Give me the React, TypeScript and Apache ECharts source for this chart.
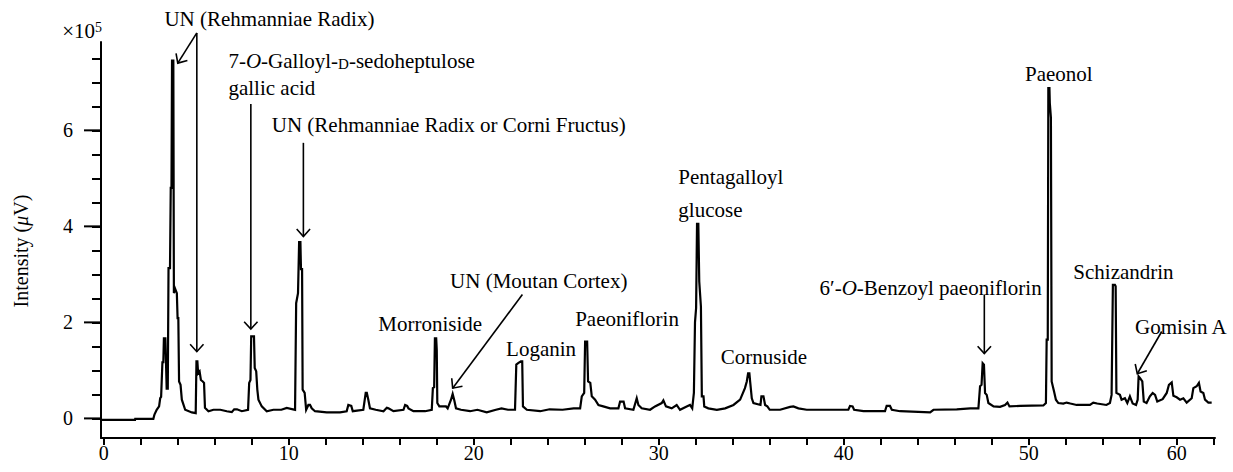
import React, { useEffect, useRef } from "react";
import * as echarts from "echarts";

// Chromatogram trace: [retention time (min), intensity (x10^5 uV)]
const traceEarly: [number, number][] = [
  [-0.14, -0.03], [1.69, -0.03], [1.7, -0.01], [2.68, -0.01], [2.74, 0.08], [2.86, 0.18],
  [2.99, 0.25], [3.05, 0.42], [3.1, 0.45], [3.17, 1.17], [3.22, 1.17], [3.25, 1.67],
  [3.33, 1.67], [3.36, 1.22], [3.4, 0.62], [3.46, 0.62], [3.5, 3.13], [3.58, 3.13],
  [3.62, 4.8], [3.66, 4.8], [3.69, 7.45], [3.76, 7.45], [3.79, 2.61], [3.86, 2.7],
  [3.95, 2.61], [3.99, 2.09], [4.03, 2.09], [4.07, 0.77], [4.15, 0.7], [4.22, 0.39],
  [4.4, 0.18], [4.76, 0.125], [4.97, 0.11], [5.01, 1.19], [5.06, 1.19], [5.1, 0.94],
  [5.18, 0.98], [5.25, 0.8], [5.35, 0.77], [5.42, 0.74], [5.47, 0.22], [5.66, 0.15],
  [5.93, 0.18], [6.3, 0.18], [6.65, 0.15], [6.92, 0.13], [7.05, 0.19], [7.2, 0.19],
  [7.46, 0.15], [7.8, 0.18], [7.86, 0.74], [7.93, 0.8], [7.97, 1.71], [8.12, 1.71],
  [8.16, 1.05], [8.24, 0.98], [8.3, 0.6], [8.36, 0.39], [8.54, 0.25], [8.81, 0.15],
  [9.17, 0.18], [9.6, 0.18], [9.89, 0.22], [10.34, 0.18], [10.4, 2.4], [10.5, 2.61],
  [10.56, 3.67], [10.63, 3.67], [10.66, 3.11], [10.72, 3.11], [10.75, 0.6], [10.86, 0.53],
  [10.94, 0.18], [11.06, 0.28], [11.15, 0.28], [11.24, 0.21], [11.42, 0.15],
];
const traceMiddle: [number, number][] = [
  [12.05, 0.125], [12.77, 0.125], [13.13, 0.15], [13.22, 0.28], [13.38, 0.26], [13.46, 0.15],
  [14.03, 0.18], [14.16, 0.53], [14.22, 0.53], [14.3, 0.39], [14.39, 0.21], [14.7, 0.18],
  [15.12, 0.15], [15.3, 0.22], [15.39, 0.21], [15.66, 0.15], [16.2, 0.18], [16.29, 0.28],
  [16.4, 0.26], [16.47, 0.21], [16.74, 0.15], [17.37, 0.15], [17.73, 0.18], [17.79, 0.63],
  [17.86, 0.65], [17.9, 1.67], [17.97, 1.67], [18.0, 1.43], [18.03, 0.32], [18.14, 0.25],
  [18.5, 0.25], [18.59, 0.21], [18.77, 0.39], [18.86, 0.51], [18.95, 0.375], [19.04, 0.21],
  [19.31, 0.18], [19.8, 0.15], [20.2, 0.18], [20.7, 0.125], [21.2, 0.18], [21.5, 0.21],
  [21.85, 0.18], [22.23, 0.18], [22.3, 1.12], [22.4, 1.15], [22.55, 1.19], [22.62, 1.19],
  [22.66, 0.25], [22.87, 0.18], [23.59, 0.15], [24.1, 0.19], [24.8, 0.18], [25.4, 0.21],
  [25.75, 0.21], [25.84, 0.46], [25.97, 0.53], [26.02, 1.6], [26.13, 1.6], [26.18, 0.77],
  [26.3, 0.74], [26.38, 0.46], [26.56, 0.39], [26.74, 0.28], [27.0, 0.25], [27.37, 0.21],
  [27.82, 0.21], [27.91, 0.35], [28.1, 0.35], [28.18, 0.21], [28.63, 0.18], [28.81, 0.42],
  [28.9, 0.28], [29.08, 0.21], [29.53, 0.18], [29.8, 0.25], [30.16, 0.32], [30.25, 0.375],
  [30.39, 0.25], [30.7, 0.21], [30.97, 0.28], [31.15, 0.18], [31.51, 0.25], [31.69, 0.28],
  [31.81, 0.21], [31.9, 0.53], [31.96, 2.0], [32.02, 2.3], [32.07, 4.05], [32.14, 4.05],
  [32.19, 2.85], [32.28, 2.33], [32.33, 0.46], [32.42, 0.46], [32.46, 0.25], [32.68, 0.21],
  [33.14, 0.18], [33.59, 0.21], [34.04, 0.28], [34.4, 0.39], [34.66, 0.63], [34.76, 0.77],
  [34.83, 0.94], [34.9, 0.94], [34.94, 0.77], [35.03, 0.42], [35.12, 0.32], [35.5, 0.28],
  [35.55, 0.46], [35.66, 0.46], [35.75, 0.28], [35.87, 0.25], [36.0, 0.18],
];
const traceLate: [number, number][] = [
  [36.56, 0.18], [37.1, 0.24], [37.28, 0.25], [37.55, 0.21], [38.0, 0.18], [39.62, 0.18],
  [40.25, 0.18], [40.34, 0.26], [40.48, 0.25], [40.56, 0.18], [41.07, 0.15], [42.23, 0.15],
  [42.32, 0.26], [42.5, 0.26], [42.6, 0.18], [43.05, 0.15], [44.67, 0.125], [44.85, 0.18],
  [46.11, 0.19], [46.84, 0.21], [47.28, 0.21], [47.37, 0.67], [47.45, 0.7], [47.51, 1.15],
  [47.58, 1.12], [47.64, 0.53], [47.73, 0.49], [47.82, 0.32], [48.1, 0.25], [48.45, 0.24],
  [48.72, 0.28], [48.85, 0.33], [48.96, 0.25], [49.53, 0.26], [50.79, 0.27], [50.93, 0.32],
  [50.97, 1.64], [51.03, 1.64], [51.06, 6.88], [51.12, 6.88], [51.14, 6.57], [51.2, 6.26],
  [51.24, 0.77], [51.37, 0.56], [51.47, 0.39], [51.6, 0.32], [51.87, 0.31], [52.05, 0.33],
  [52.25, 0.31], [52.59, 0.28], [53.31, 0.28], [53.49, 0.33], [53.7, 0.31], [54.2, 0.28],
  [54.39, 0.32], [54.48, 0.49], [54.55, 2.78], [54.66, 2.78], [54.7, 2.75], [54.74, 0.53],
  [54.93, 0.49], [55.02, 0.39], [55.2, 0.42], [55.33, 0.32], [55.47, 0.46], [55.62, 0.31],
  [55.8, 0.28], [55.89, 0.39], [55.94, 0.875], [56.02, 0.84], [56.14, 0.77], [56.22, 0.35],
  [56.37, 0.32], [56.55, 0.46], [56.7, 0.53], [56.83, 0.49], [56.95, 0.35], [57.24, 0.4],
  [57.46, 0.53], [57.58, 0.7], [57.73, 0.75], [57.82, 0.47], [58.0, 0.44], [58.18, 0.39],
  [58.36, 0.42], [58.54, 0.33], [58.81, 0.42], [58.9, 0.63], [59.08, 0.67], [59.2, 0.74],
  [59.29, 0.56], [59.44, 0.53], [59.53, 0.39], [59.71, 0.33], [59.89, 0.33],
];

// Axis ticks
const xLabelPositions = [0, 10, 20, 30, 40, 50, 58];
const xTickLabels = ["0", "10", "20", "30", "40", "50", "60"];
const xTickValues = [0, 2, 4, 6, 8, 10, 12, 14, 16, 18, 20, 22, 24, 26, 28, 30, 32, 34, 36, 38, 40, 42, 44, 46, 48, 50, 52, 54, 56, 58, 60];
const yTickValues = [0, 2, 4, 6];
const yAllTickValues = [0, 0.5, 1, 1.5, 2, 2.5, 3, 3.5, 4, 4.5, 5, 5.5, 6, 6.5, 7, 7.5];

// Peak annotations (data coordinates)
const labels: { text: string; at: [number, number]; align?: "left" | "right" }[] = [
  { text: "{a|UN (Rehmanniae Radix)}", at: [3.28, 8.31] },
  { text: "{a|7-}{i|O}{a|-Galloyl-}{s|D}{a|-sedoheptulose}", at: [6.74, 7.45] },
  { text: "{a|gallic acid}", at: [6.74, 6.89] },
  { text: "{a|UN (Rehmanniae Radix or Corni Fructus)}", at: [9.08, 6.12] },
  { text: "{a|Morroniside}", at: [14.84, 1.97] },
  { text: "{a|UN (Moutan Cortex)}", at: [18.72, 2.86] },
  { text: "{a|Loganin}", at: [21.75, 1.45] },
  { text: "{a|Paeoniflorin}", at: [25.48, 2.08] },
  { text: "{a|Pentagalloyl}", at: [31.06, 5.03] },
  { text: "{a|glucose}", at: [31.06, 4.35] },
  { text: "{a|Cornuside}", at: [33.35, 1.275] },
  { text: "{a|6′-}{i|O}{a|-Benzoyl paeoniflorin}", at: [50.7, 2.72], align: "right" },
  { text: "{a|Paeonol}", at: [49.8, 7.18] },
  { text: "{a|Schizandrin}", at: [52.41, 3.05] },
  { text: "{a|Gomisin A}", at: [55.75, 1.91] },
];
const arrows: { from: [number, number]; to: [number, number] }[] = [
  { from: [5.03, 8.03], to: [4.0, 7.4] },
  { from: [5.03, 8.03], to: [5.03, 1.39] },
  { from: [7.95, 6.55], to: [7.95, 1.86] },
  { from: [10.79, 5.74], to: [10.79, 3.79] },
  { from: [22.63, 2.58], to: [18.86, 0.63] },
  { from: [47.6, 2.58], to: [47.6, 1.35] },
  { from: [57.19, 1.81], to: [55.87, 0.93] },
];

const FONT = '"Liberation Serif", "DejaVu Serif", serif';
const INK = "#000";

const rich = (size: number) => ({
  a: { fontFamily: FONT, fontSize: size, fill: INK, verticalAlign: "bottom" },
  i: { fontFamily: FONT, fontSize: size, fill: INK, fontStyle: "italic", verticalAlign: "bottom" },
  s: { fontFamily: FONT, fontSize: Math.round(size * 0.72), fill: INK, verticalAlign: "bottom" },
});

export default function App() {
  const ref = useRef<HTMLDivElement>(null);

  useEffect(() => {
    if (!ref.current) return;
    const chart = echarts.init(ref.current, null, { renderer: "svg" });
    const tickLine = { color: INK, width: 2 };
    const labelStyle = { color: INK, fontSize: 20, fontFamily: FONT };
    const trace = [...traceEarly, ...traceMiddle, ...traceLate];
    const option: any = {
      animation: false,
      backgroundColor: "#fff",
      grid: { left: 101, right: 18, top: 42, bottom: 34, containLabel: false, outerBoundsMode: "none" },
      xAxis: {
        type: "value",
        min: -0.15,
        max: 60.07,
        axisLine: { show: true, onZero: false, lineStyle: tickLine },
        axisTick: { show: true, customValues: xTickValues, length: 7, lineStyle: tickLine },
        axisLabel: {
          ...labelStyle,
          customValues: xLabelPositions,
          margin: 5,
          formatter: (v: number) => {
            const i = xLabelPositions.indexOf(v);
            return i >= 0 ? xTickLabels[i] : "";
          },
        },
        splitLine: { show: false },
      },
      yAxis: {
        type: "value",
        min: -0.408,
        max: 7.84,
        position: "left",
        axisLine: { show: true, onZero: false, lineStyle: tickLine },
        axisTick: { show: true, customValues: yAllTickValues, length: 9, lineStyle: tickLine },
        axisLabel: { ...labelStyle, customValues: yTickValues, margin: 28 },
        splitLine: { show: false },
      },
      series: [
        {
          type: "line",
          data: trace,
          showSymbol: false,
          symbol: "none",
          lineStyle: { color: INK, width: 2.2, join: "miter", miterLimit: 4 },
          silent: true,
        },
      ],
    };
    chart.setOption(option);

    const toPx = (p: [number, number]) =>
      chart.convertToPixel({ xAxisIndex: 0, yAxisIndex: 0 }, p) as number[];

    const graphics: any[] = [];
    // longer ticks at the labelled intensity values
    const axisX = toPx([-0.15, 0])[0];
    yTickValues.forEach((v) => {
      const py = toPx([0, v])[1];
      graphics.push({
        type: "line",
        silent: true,
        shape: { x1: axisX - 17, y1: py, x2: axisX - 1, y2: py },
        style: { stroke: INK, lineWidth: 2 },
      });
    });
    labels.forEach((l) => {
      const [x, y] = toPx(l.at);
      graphics.push({
        type: "text",
        x,
        y,
        silent: true,
        style: {
          text: l.text,
          rich: rich(21),
          align: l.align || "left",
          verticalAlign: "middle",
          fontFamily: FONT,
          fontSize: 21,
          fill: INK,
        },
      });
    });
    arrows.forEach((a) => {
      const s = toPx(a.from);
      const e = toPx(a.to);
      const dx = e[0] - s[0];
      const dy = e[1] - s[1];
      const len = Math.hypot(dx, dy) || 1;
      const ux = dx / len;
      const uy = dy / len;
      const L = 10;
      const ang = (42 * Math.PI) / 180;
      const rot = (t: number) => [ux * Math.cos(t) - uy * Math.sin(t), ux * Math.sin(t) + uy * Math.cos(t)];
      const r1 = rot(ang);
      const r2 = rot(-ang);
      graphics.push({
        type: "line",
        silent: true,
        shape: { x1: s[0], y1: s[1], x2: e[0], y2: e[1] },
        style: { stroke: INK, lineWidth: 1.6 },
      });
      graphics.push({
        type: "polyline",
        silent: true,
        shape: {
          points: [
            [e[0] - L * r1[0], e[1] - L * r1[1]],
            [e[0], e[1]],
            [e[0] - L * r2[0], e[1] - L * r2[1]],
          ],
        },
        style: { stroke: INK, lineWidth: 1.6, fill: "none" },
      });
    });
    // axis title and multiplier
    graphics.push({
      type: "text",
      x: 21,
      y: 251,
      rotation: Math.PI / 2,
      silent: true,
      style: {
        text: "{a|Intensity (}{i|μ}{a|V)}",
        rich: rich(20),
        align: "center",
        verticalAlign: "middle",
        fontFamily: FONT,
        fontSize: 20,
        fill: INK,
      },
    });
    graphics.push({
      type: "text",
      x: 102,
      y: 31,
      silent: true,
      style: {
        text: "{a|×10}{p|5}",
        rich: {
          a: { fontFamily: FONT, fontSize: 21, fill: INK, verticalAlign: "bottom" },
          p: { fontFamily: FONT, fontSize: 14, fill: INK, verticalAlign: "top" },
        },
        align: "right",
        verticalAlign: "middle",
        fontFamily: FONT,
        fontSize: 21,
        fill: INK,
      },
    });
    chart.setOption({ graphic: graphics });

    return () => chart.dispose();
  }, []);

  return (
    <div
      ref={ref}
      style={{ position: "absolute", left: 0, top: 0, width: 1233, height: 472 }}
    />
  );
}
